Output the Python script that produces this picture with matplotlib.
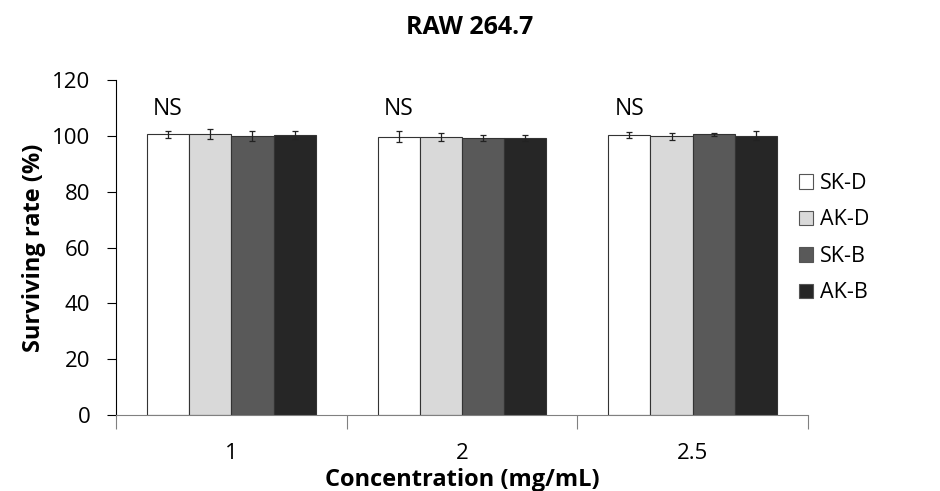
import numpy as np
import matplotlib
matplotlib.use("Agg")
import matplotlib.pyplot as plt
from matplotlib.patches import Patch

plt.rcParams['font.family'] = ['Open Sans', 'DejaVu Sans']

# --- DATA ---
concentrations = ["1", "2", "2.5"]
samples = ["SK-D", "AK-D", "SK-B", "AK-B"]
sk_d = [100.5, 99.7, 100.4]
ak_d = [100.5, 99.6, 99.8]
sk_b = [100.0, 99.2, 100.5]
ak_b = [100.4, 99.2, 100.0]
sk_d_err = [1.2, 2.0, 1.0]
ak_d_err = [1.8, 1.6, 1.2]
sk_b_err = [1.9, 1.1, 0.5]
ak_b_err = [1.5, 1.0, 1.6]
sig_labels = ["NS", "NS", "NS"]

values = [sk_d, ak_d, sk_b, ak_b]
errors = [sk_d_err, ak_d_err, sk_b_err, ak_b_err]
colors = ["#ffffff", "#d9d9d9", "#595959", "#262626"]

# --- PLOT ---
fig = plt.figure(figsize=(9.4, 4.91), dpi=100)
ax = fig.add_axes([0.1234, 0.1548, 0.7362, 0.6822])

centers = np.arange(len(concentrations)) + 0.5
width = 0.183
offsets = (np.arange(len(samples)) - 1.5) * width

for vals, errs, col, off in zip(values, errors, colors, offsets):
    ax.bar(centers + off, vals, width=width, color=col, edgecolor="#333333",
           linewidth=0.8, yerr=errs, capsize=2.5,
           error_kw=dict(elinewidth=0.9, capthick=0.9, ecolor="#222222"))

for c, lab in zip(centers, sig_labels):
    ax.text(c + offsets[0], 109.8, lab, ha="center", va="center", fontsize=16.5)

ax.set_xlim(0, 3)
ax.set_ylim(0, 120)
ax.set_yticks(np.arange(0, 121, 20))
ax.tick_params(axis="y", labelsize=16, length=6.5, direction="out", width=0.8, pad=12)

ax.set_xticks([0, 1, 2, 3])
ax.set_xticklabels([])
ax.set_xticks(centers, minor=True)
ax.set_xticklabels(concentrations, minor=True)
ax.tick_params(axis="x", which="major", length=10, color="#808080", width=0.8)
ax.tick_params(axis="x", which="minor", length=0, labelsize=16, pad=20)

for s in ["top", "right"]:
    ax.spines[s].set_visible(False)
ax.spines["bottom"].set_color("#808080")
ax.spines["left"].set_color("#000000")
ax.spines["left"].set_linewidth(0.8)

ax.set_ylabel("Surviving rate (%)", fontsize=17, fontweight="bold", labelpad=4)
ax.set_xlabel("Concentration (mg/mL)", fontsize=17, fontweight="bold", labelpad=3)
fig.text(0.5, 0.943, "RAW 264.7", fontsize=18, fontweight="bold",
         ha="center", va="center")

handles = [Patch(facecolor=c, edgecolor="#555555", linewidth=0.8) for c in colors]
fig.legend(handles, samples, loc="center left", bbox_to_anchor=(0.829, 0.515),
           frameon=False, fontsize=15.5, handlelength=0.65, handleheight=0.65,
           handletextpad=0.35, labelspacing=0.72)

fig.savefig("out.png", dpi=100)
